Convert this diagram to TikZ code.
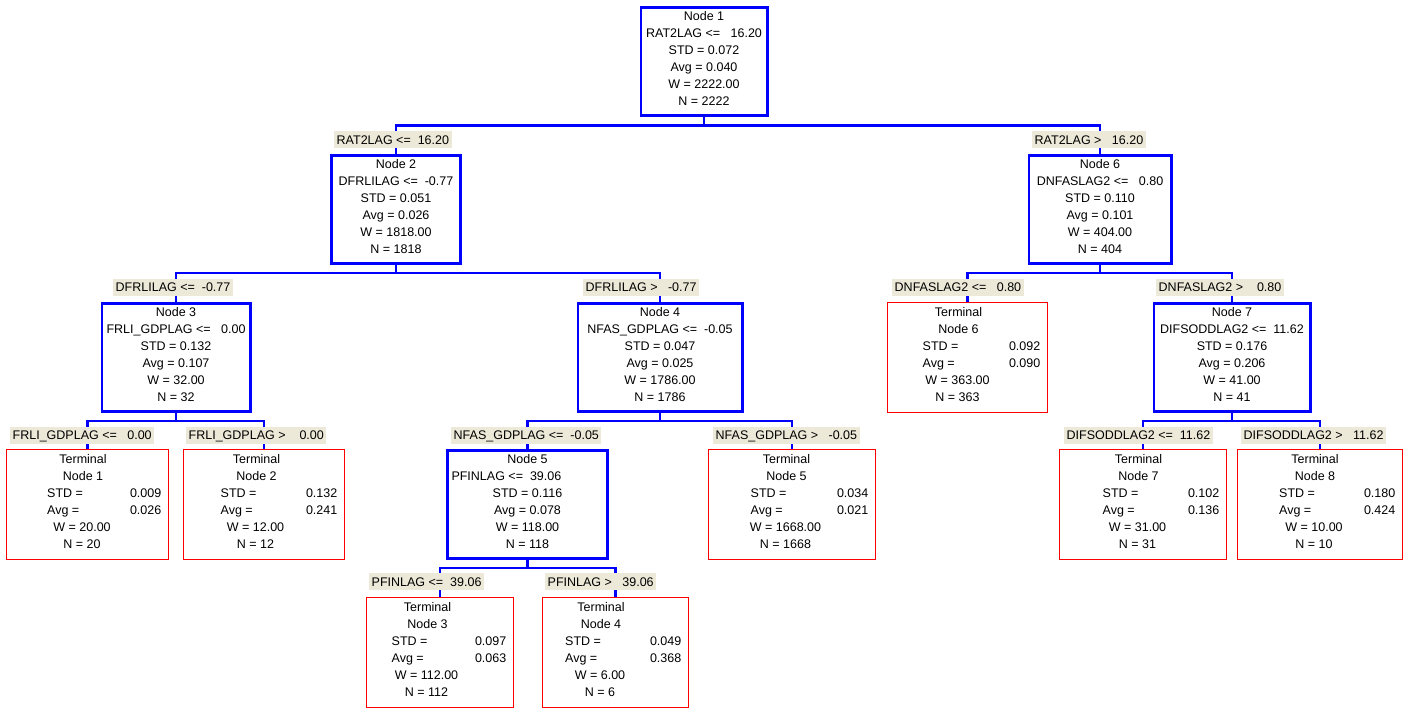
\documentclass[tikz,border=0pt]{standalone}
\usepackage{fontspec}
\setmainfont{Liberation Sans}
\definecolor{labbg}{HTML}{ECE9D8}
\pgfdeclarelayer{bg}
\pgfsetlayers{bg,main}
\tikzset{
  conn/.style={draw=blue, line width=2.5pt},
  dbox/.style={draw=blue, line width=2.6pt, fill=white, rectangle, inner sep=0pt, minimum height=108.4pt},
  tbox/.style={draw=red, line width=1.3pt, fill=white, rectangle, inner sep=0pt, minimum height=109.7pt},
  txt/.style={inner sep=0pt, font=\fontsize{12.5}{17}\selectfont},
  dtxt/.style={txt, align=center, anchor=north},
  lab/.style={fill=labbg, inner xsep=2.5pt, inner ysep=0pt, minimum height=17pt, text height=9pt, text depth=0pt, anchor=west, font=\fontsize{12.5}{17}\selectfont},
}
% name, centre x, outer width, top, text
\newcommand{\decnode}[5]{%
  \node[dbox, minimum width={#3-2.6}] (#1) at (#2,{#4+55.5}) {};
  \node[dtxt] (#1t) at (#2,{#4+5.4}) {#5};
}
% name, L, R, top, text centre, number, std, avg, N
\newcommand{\termnode}[9]{%
  \node[tbox, minimum width={#3-#2-1.3}] (#1) at ({(#2+#3)/2},{#4+55.5}) {};
  \node[txt, anchor=base] (#1a) at (#5,{#4+14.5}) {Terminal};
  \node[txt, anchor=base] (#1b) at (#5,{#4+31.5}) {Node #6};
  \node[txt, anchor=base west] (#1c) at ({#5-36},{#4+48.5}) {STD =};
  \node[txt, anchor=base east] (#1d) at ({#3-7.5},{#4+48.5}) {#7};
  \node[txt, anchor=base west] (#1e) at ({#5-36},{#4+65.5}) {Avg =};
  \node[txt, anchor=base east] (#1f) at ({#3-7.5},{#4+65.5}) {#8};
  \node[txt, anchor=base] (#1g) at ({#5-1},{#4+82.5}) {W = #9.00};
  \node[txt, anchor=base] (#1h) at ({#5-1},{#4+99.5}) {N = #9};
}
\begin{document}
\begin{tikzpicture}[x=1pt,y=-1pt]
\useasboundingbox (0,0) rectangle (1411,709);

% bus coordinates
\coordinate (b1) at (704,125.5);
\coordinate (b2) at (396,273);
\coordinate (b3) at (176,421);
\coordinate (b4) at (660,421);
\coordinate (b5) at (527.5,568);
\coordinate (b6) at (1100,273);
\coordinate (b7) at (1232,421);

\decnode{n1}{704}{129}{6}{Node 1\\RAT2LAG <=~~~16.20\\STD = 0.072\\Avg = 0.040\\W = 2222.00\\N = 2222}
\decnode{n2}{396}{132}{154}{Node 2\\DFRLILAG <=~~-0.77\\STD = 0.051\\Avg = 0.026\\W = 1818.00\\N = 1818}
\decnode{n3}{176}{151}{302}{Node 3\\FRLI\_GDPLAG <=~~~0.00\\STD = 0.132\\Avg = 0.107\\W = 32.00\\N = 32}
\decnode{n4}{660}{167}{302}{Node 4\\NFAS\_GDPLAG <=~~-0.05\\STD = 0.047\\Avg = 0.025\\W = 1786.00\\N = 1786}
\decnode{n5}{527.5}{163}{449}{Node 5\\\makebox[152pt][l]{PFINLAG <=~~39.06}\\STD = 0.116\\Avg = 0.078\\W = 118.00\\N = 118}
\decnode{n6}{1100}{145}{154}{Node 6\\DNFASLAG2 <=~~~0.80\\STD = 0.110\\Avg = 0.101\\W = 404.00\\N = 404}
\decnode{n7}{1232}{159}{302}{Node 7\\DIFSODDLAG2 <=~~11.62\\STD = 0.176\\Avg = 0.206\\W = 41.00\\N = 41}

\termnode{t1}{6}{169}{449}{83}{1}{0.009}{0.026}{20}
\termnode{t2}{183}{345}{449}{256.5}{2}{0.132}{0.241}{12}
\termnode{t3}{366}{514}{597}{427.5}{3}{0.097}{0.063}{112}
\termnode{t4}{542}{689}{597}{601}{4}{0.049}{0.368}{6}
\termnode{t5}{708}{876}{449}{786.5}{5}{0.034}{0.021}{1668}
\termnode{t6}{887}{1048}{302}{958.5}{6}{0.092}{0.090}{363}
\termnode{t7}{1059}{1227}{449}{1138.5}{7}{0.102}{0.136}{31}
\termnode{t8}{1237}{1403}{449}{1315}{8}{0.180}{0.424}{10}

% split labels
\node[lab] (l2) at (334,139.5) {RAT2LAG <=~~16.20};
\node[lab] (l6) at (1032,139.5) {RAT2LAG >~~~16.20};
\node[lab] (l3) at (113,287) {DFRLILAG <=~~-0.77};
\node[lab] (l4) at (583,287) {DFRLILAG >~~~-0.77};
\node[lab] (lt6) at (892,287) {DNFASLAG2 <=~~~0.80};
\node[lab] (l7) at (1156,287) {DNFASLAG2 >~~~~0.80};
\node[lab] (lt1) at (10,435) {FRLI\_GDPLAG <=~~~0.00};
\node[lab] (lt2) at (186,435) {FRLI\_GDPLAG >~~~~0.00};
\node[lab] (l5) at (451,435) {NFAS\_GDPLAG <=~~-0.05};
\node[lab] (lt5) at (713,435) {NFAS\_GDPLAG >~~~-0.05};
\node[lab] (lt7) at (1064,435) {DIFSODDLAG2 <=~~11.62};
\node[lab] (lt8) at (1241,435) {DIFSODDLAG2 >~~~11.62};
\node[lab] (lt3) at (369,581.5) {PFINLAG <=~~39.06};
\node[lab] (lt4) at (545,581.5) {PFINLAG >~~~39.06};

\begin{pgfonlayer}{bg}
\fill[white] (0,0) rectangle (1411,709);
\draw[conn] (n1.south) -- (b1) (n2.north) |- (b1) -| (n6.north);
\draw[conn] (n2.south) -- (b2) (n3.north) |- (b2) -| (n4.north);
\draw[conn] (n3.south) -- (b3) (t1.north) |- (b3) -| (t2.north);
\draw[conn] (n4.south) -- (b4) (n5.north) |- (b4) -| (t5.north);
\draw[conn] (n5.south) -- (b5) (t3.north) |- (b5) -| (t4.north);
\draw[conn] (n6.south) -- (b6) (t6.north) |- (b6) -| (n7.north);
\draw[conn] (n7.south) -- (b7) (t7.north) |- (b7) -| (t8.north);
\end{pgfonlayer}
\end{tikzpicture}
\end{document}
